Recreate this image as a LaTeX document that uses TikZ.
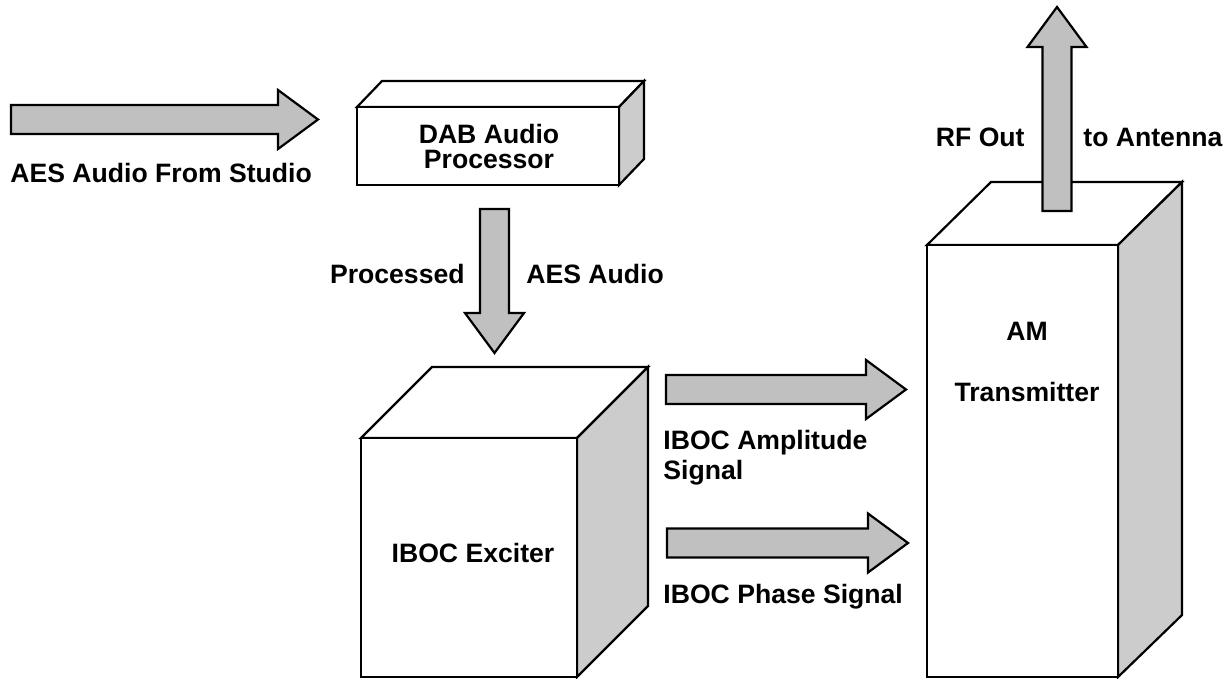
\documentclass[tikz,border=0pt]{standalone}
\usepackage{fontspec}
\setmainfont{Liberation Sans}
\usetikzlibrary{calc}
\definecolor{arrowgray}{RGB}{192,192,192}
\definecolor{sidegray}{RGB}{204,204,204}
\tikzset{
  boxline/.style={draw=black, line width=1.1pt, line join=miter},
  boxfront/.style={boxline, fill=white},
  boxside/.style={boxline, fill=sidegray},
  arrowbody/.style={boxline, fill=arrowgray},
  lbl/.style={font=\fontsize{13.3}{15}\selectfont\bfseries, inner sep=0pt, align=left},
}
% block arrow from tail coordinate #1 to tip coordinate #2
\newcommand{\blockarrow}[2]{%
\coordinate (#1-base) at ($(#2)!20pt!(#1)$);
\draw[arrowbody] ($(#1)!7.25pt!-90:(#2)$) -- ($(#1-base)!7.25pt!90:(#1)$)
  -- ($(#1-base)!14.75pt!90:(#1)$) -- (#2) -- ($(#1-base)!14.75pt!-90:(#1)$)
  -- ($(#1-base)!7.25pt!-90:(#1)$) -- ($(#1)!7.25pt!90:(#2)$) -- cycle;}
\begin{document}
\begin{tikzpicture}[x=0.5pt,y=-0.5pt]
\useasboundingbox[fill=white] (0,0) rectangle (1230,679);
% Drawing boxes
% Box 1: DAB audio processor
\filldraw[boxfront] (357,107) -- (382,81) -- (644,81) -- (619,107) -- cycle;
\filldraw[boxside] (619,107) -- (644,81) -- (644,159) -- (619,185) -- cycle;
\filldraw[boxfront] (357,107) rectangle (619,185);
\node[lbl, align=center] (dab) at (489,146) {DAB Audio\\[-2.5pt]Processor};
% Box 2: IBOC exciter
\filldraw[boxfront] (361,438) -- (432,367) -- (648,367) -- (577,438) -- cycle;
\filldraw[boxside] (577,438) -- (648,367) -- (648,606) -- (577,677) -- cycle;
\filldraw[boxfront] (361,438) rectangle (577,677);
\node[lbl] (exciter) at (473,553) {IBOC Exciter};
% Box 3: AM transmitter
\filldraw[boxfront] (927,245) -- (991,182) -- (1182,182) -- (1118,245) -- cycle;
\filldraw[boxside] (1118,245) -- (1182,182) -- (1182,615) -- (1118,677) -- cycle;
\filldraw[boxfront] (927,245) rectangle (1118,677);
\node[lbl] (am) at (1027,331) {AM};
\node[lbl] (transmitter) at (1027,392) {Transmitter};
% Done with boxes; drawing arrows
\coordinate (studio-tail) at (11,119.5);
\coordinate (studio-tip) at (318,119.5);
\blockarrow{studio-tail}{studio-tip}
\coordinate (processed-tail) at (494.5,209);
\coordinate (processed-tip) at (494.5,353);
\blockarrow{processed-tail}{processed-tip}
\coordinate (amplitude-tail) at (666,389.5);
\coordinate (amplitude-tip) at (906,389.5);
\blockarrow{amplitude-tail}{amplitude-tip}
\coordinate (phase-tail) at (667,543);
\coordinate (phase-tip) at (908,543);
\blockarrow{phase-tail}{phase-tip}
\coordinate (rf-tail) at (1057,211);
\coordinate (rf-tip) at (1057,7);
\blockarrow{rf-tail}{rf-tip}
% Done with arrows; drawing labels
\node[lbl, anchor=west] (studio) at (10,173) {AES Audio From Studio};
\node[lbl, anchor=east] (processed) at (465,274) {Processed};
\node[lbl, anchor=west] (aesaudio) at (526,274) {AES Audio};
\node[lbl, anchor=west] (amplitude) at (663,458) {IBOC Amplitude\\Signal};
\node[lbl, anchor=west] (phase) at (663,597) {IBOC Phase Signal};
\node[lbl, anchor=east] (rfout) at (1025,137) {RF Out};
\node[lbl, anchor=west] (antenna) at (1083,137) {to Antenna};
% Done with labels
\end{tikzpicture}
\end{document}
